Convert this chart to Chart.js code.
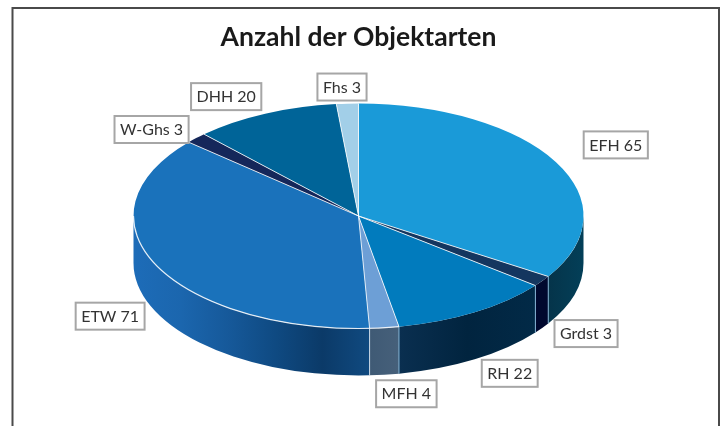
<!DOCTYPE html>
<html>
<head>
<meta charset="utf-8">
<style>
html,body{margin:0;padding:0;background:#fff;overflow:hidden}
#wrap{position:absolute;left:0;top:0;width:724px;height:426px}
</style>
<script src="https://cdn.jsdelivr.net/npm/chart.js@4"></script>
</head>
<body>
<div id="wrap"><canvas id="c" width="724" height="426"></canvas></div>
<script>
const categories = ["EFH","Grdst","RH","MFH","ETW","W-Ghs","DHH","Fhs"];
const values = [65,3,22,4,71,3,20,3];
const topColors = ["#1a9ad8","#14365f","#017bbd","#6d9fd6","#1a72bb","#15275a","#006498","#a2cfe8"];
const sideStops = [
  ["#05344a","#033f58"],
  ["#00082e","#00082e"],
  ["#0a2f50","#01243f","#022a47"],
  ["#3f5a75","#46607a"],
  ["#1d6cb8","#1b66ae","#16599a","#0f4a82","#0b3a68","#104a80"],
  ["#15275a","#15275a"],
  ["#006498","#006498"],
  ["#a2cfe8","#a2cfe8"]
];
const labelOffsets = [[60,-17],[44,52.5],[35,61],[22,66],[-46,51],[-44.6,-8.6],[-39,-17],[-5.4,-16.6]];

const RADIUS = 225, TILT = 0.5, DEPTH = 47, CY = 216;
const FONT = 'Lato, Carlito, sans-serif';

function rimY(arc, a){ return CY + RADIUS * TILT * Math.sin(a); }
function rimX(arc, a){ return arc.x + RADIUS * Math.cos(a); }

const pie3d = {
  id: 'pie3d',
  beforeDraw(chart){
    const ctx = chart.ctx;
    ctx.save();
    ctx.strokeStyle = '#4a4a4a';
    ctx.lineWidth = 2;
    ctx.beginPath();
    ctx.moveTo(12.5, 426);
    ctx.lineTo(12.5, 8);
    ctx.lineTo(719, 8);
    ctx.lineTo(719, 426);
    ctx.stroke();
    ctx.restore();
  },
  beforeDatasetsDraw(chart){
    const ctx = chart.ctx;
    const arcs = chart.getDatasetMeta(0).data;
    const rs = RADIUS, ry = RADIUS * TILT;
    // front wall of the disc, from the same arc geometry the library computed
    arcs.forEach((arc, i) => {
      let s = arc.startAngle, e = arc.endAngle;
      s = Math.max(s, 0); e = Math.min(e, Math.PI);
      if (e <= s) return;
      const x1 = rimX(arc, s), x2 = rimX(arc, e);
      const g = ctx.createLinearGradient(Math.min(x1,x2), 0, Math.max(x1,x2), 0);
      const st = sideStops[i];
      st.forEach((c, k) => g.addColorStop(k / (st.length - 1), c));
      ctx.save();
      ctx.beginPath();
      ctx.ellipse(arc.x, CY, rs, ry, 0, s, e, false);
      ctx.ellipse(arc.x, CY + DEPTH, rs, ry, 0, e, s, true);
      ctx.closePath();
      ctx.fillStyle = g;
      ctx.fill();
      ctx.restore();
    });
    // edges between the wall segments
    arcs.forEach((arc, i) => {
      const e = arc.endAngle;
      if (e <= 0 || e >= Math.PI) return;
      const x = rimX(arc, e), y = rimY(arc, e);
      ctx.save();
      ctx.strokeStyle = (i === 2 || i === 1 || i === 0) ? 'rgba(150,205,240,0.8)' : 'rgba(225,235,245,0.85)';
      ctx.lineWidth = 1;
      ctx.beginPath();
      ctx.moveTo(x, y);
      ctx.lineTo(x, y + DEPTH);
      ctx.stroke();
      ctx.restore();
    });
    // squash the flat pie into the tilted top face
    const a0 = arcs[0];
    ctx.save();
    ctx.translate(a0.x, CY);
    ctx.scale(1, TILT);
    ctx.translate(-a0.x, -a0.y);
  },
  afterDatasetsDraw(chart){
    const ctx = chart.ctx;
    ctx.restore();
    const arcs = chart.getDatasetMeta(0).data;
    const ry = RADIUS * TILT;
    const cx = arcs[0].x;
    // rim highlights on ETW and MFH
    ctx.save();
    ctx.strokeStyle = 'rgba(255,255,255,0.85)';
    ctx.lineWidth = 1.2;
    ctx.beginPath();
    ctx.ellipse(cx, CY, RADIUS, ry, 0, arcs[3].startAngle, Math.PI, false);
    ctx.stroke();
    // radial separators
    ctx.strokeStyle = 'rgba(255,255,255,0.8)';
    ctx.lineWidth = 1;
    arcs.forEach(arc => {
      const a = arc.startAngle;
      ctx.beginPath();
      ctx.moveTo(cx, CY);
      ctx.lineTo(rimX(arc, a), rimY(arc, a));
      ctx.stroke();
    });
    ctx.restore();
  },
  afterDraw(chart){
    const ctx = chart.ctx;
    const arcs = chart.getDatasetMeta(0).data;
    ctx.save();
    ctx.font = '16px ' + FONT;
    ctx.textAlign = 'center';
    ctx.textBaseline = 'middle';
    arcs.forEach((arc, i) => {
      const mid = (arc.startAngle + arc.endAngle) / 2;
      const bx = rimX(arc, mid) + labelOffsets[i][0];
      const by = rimY(arc, mid) + labelOffsets[i][1];
      const text = categories[i] + ' ' + values[i];
      const w = ctx.measureText(text).width + 11, h = 27;
      ctx.fillStyle = '#fff';
      ctx.fillRect(bx - w/2, by - h/2, w, h);
      ctx.strokeStyle = '#a6a6a6';
      ctx.lineWidth = 2;
      ctx.strokeRect(bx - w/2, by - h/2, w, h);
      ctx.fillStyle = '#333333';
      ctx.fillText(text, bx, by + 0.5);
    });
    ctx.restore();
  }
};

new Chart(document.getElementById('c'), {
  type: 'pie',
  data: {
    labels: categories,
    datasets: [{ data: values, backgroundColor: topColors, borderWidth: 0 }]
  },
  options: {
    responsive: false,
    animation: false,
    radius: RADIUS,
    layout: { padding: { right: 7 } },
    plugins: {
      legend: { display: false },
      tooltip: { enabled: false },
      title: {
        display: true,
        text: 'Anzahl der Objektarten',
        color: '#1a1a1a',
        font: { family: FONT, size: 26.5, weight: 'bold' },
        padding: { top: 22, bottom: 10 }
      }
    }
  },
  plugins: [pie3d]
});
</script>
</body>
</html>
